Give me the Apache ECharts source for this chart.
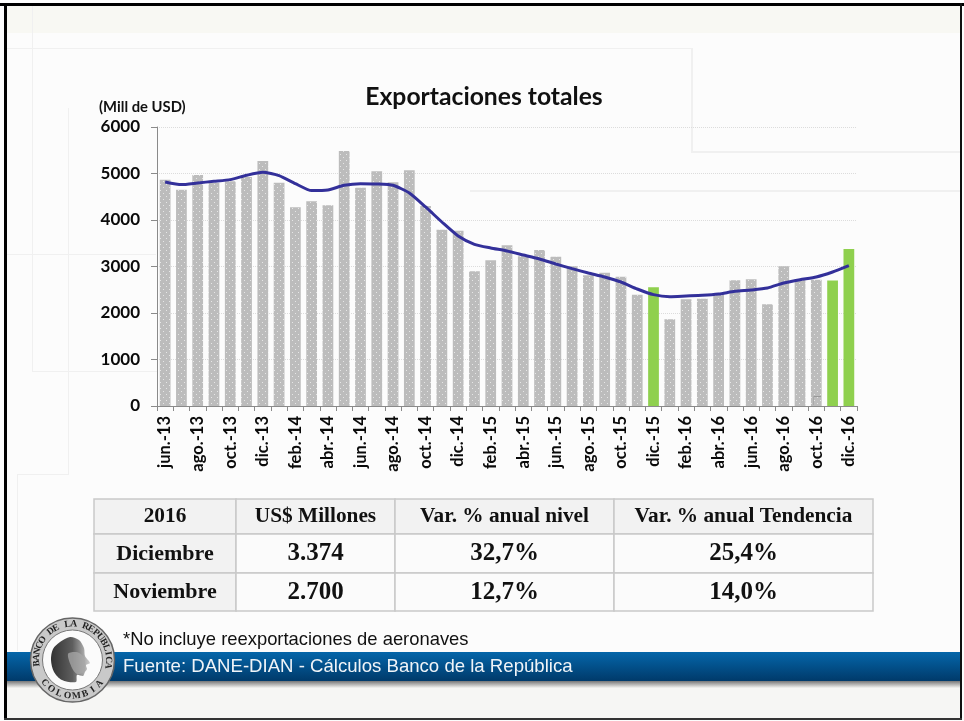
<!DOCTYPE html>
<html><head><meta charset="utf-8">
<style>html,body{margin:0;padding:0;background:#fff}#c{width:964px;height:721px}</style>
<script src="https://cdn.jsdelivr.net/npm/echarts@6/dist/echarts.min.js"></script>
</head><body><div id="c"></div>
<script>
const categories=['jun.-13','jul.-13','ago.-13','sep.-13','oct.-13','nov.-13','dic.-13','ene.-14','feb.-14','mar.-14','abr.-14','may.-14','jun.-14','jul.-14','ago.-14','sep.-14','oct.-14','nov.-14','dic.-14','ene.-15','feb.-15','mar.-15','abr.-15','may.-15','jun.-15','jul.-15','ago.-15','sep.-15','oct.-15','nov.-15','dic.-15','ene.-16','feb.-16','mar.-16','abr.-16','may.-16','jun.-16','jul.-16','ago.-16','sep.-16','oct.-16','nov.-16','dic.-16'];
const exportsLevel=[4868,4653,4968,4796,4832,4925,5270,4803,4273,4402,4316,5484,4696,5047,4810,5069,4301,3793,3771,2896,3133,3456,3219,3355,3212,3004,2810,2868,2782,2395,2552,1864,2294,2309,2416,2703,2724,2187,3004,2720,2717,2700,3374];
const exportsTrend=[4818,4761,4797,4832,4868,4961,5026,4954,4782,4632,4646,4746,4782,4775,4746,4581,4280,3957,3656,3477,3398,3334,3248,3162,3054,2954,2861,2775,2667,2516,2395,2352,2366,2380,2409,2466,2495,2538,2646,2717,2775,2882,3018];
const highlighted=['dic.-15','nov.-16','dic.-16'];
const tableHeader=['2016','US$ Millones','Var. % anual nivel','Var. % anual Tendencia'];
const tableRow1=['Diciembre','3.374','32,7%','25,4%'];
const tableRow2=['Noviembre','2.700','12,7%','14,0%'];
const chartTitle='Exportaciones totales', unitLabel='(Mill de USD)';
const noteText='*No incluye reexportaciones de aeronaves', sourceText='Fuente: DANE-DIAN - Cálculos Banco de la República';
const sealTop='BANCO DE LA REPUBLICA', sealBottom='COLOMBIA';

const pat=document.createElement('canvas');pat.width=6;pat.height=6;
const p=pat.getContext('2d');p.fillStyle='#bcbcbc';p.fillRect(0,0,6,6);p.fillStyle='#e6e6e6';p.fillRect(1,1,1,1);p.fillRect(4,4,1,1);

const g=[];
const rect=(x,y,w,h,fill,z,extra)=>g.push(Object.assign({type:'rect',silent:true,z:z,shape:{x,y,width:w,height:h},style:{fill}},extra||{}));
const faint=(x,y,w,h)=>rect(x,y,w,h,'#f0f0f0',-9);
// page background
rect(0,0,964,721,'#fcfcfc',-10);
rect(5,5,956,28,'#f8f8f3',-10);
rect(5,681,956,38,'#f6f6f4',-10);
faint(6,48,686,1);faint(32,5,1,367);faint(32,371,125,1);faint(68,108,1,367);faint(17,474,52,1);faint(17,474,1,177);
faint(6,254,150,1);faint(470,190,491,2);faint(691,48,2,104);faint(691,151,270,2);
// footer band
rect(5,681,956,7,'#000',-8,{style:{fill:{type:'linear',x:0,y:0,x2:0,y2:1,colorStops:[{offset:0,color:'#777'},{offset:1,color:'#f4f4f2'}]}}});
rect(5,652,956,29,'#000',-7,{style:{fill:{type:'linear',x:0,y:0,x2:0,y2:1,colorStops:[{offset:0,color:'#0566aa'},{offset:1,color:'#003a6a'}]}}});
// frame
rect(0,0,964,3,'#fff',60);rect(0,3,964,3,'#000',60);rect(4,3,3,717,'#000',60);rect(960,3,2,717,'#111',60);rect(4,718,958,2,'#333',60);
// table
const colX=[94,236,395,614,873], rowY=[499,534,573,611];
const rows=[tableHeader,tableRow1,tableRow2];
rows.forEach((r,i)=>r.forEach((t,j)=>{
  const f=(i===0||j===0)?'#f2f2f2':'#fbfbfb';
  rect(colX[j],rowY[i],colX[j+1]-colX[j],rowY[i+1]-rowY[i],f,5,{style:{fill:f,stroke:'#c9c9c9',lineWidth:1.5}});
  g.push({type:'text',silent:true,z:6,style:{text:t,x:(colX[j]+colX[j+1])/2,y:(rowY[i]+rowY[i+1])/2+(i>0?0.5:0),textAlign:'center',textVerticalAlign:'middle',fill:'#111',
    font:'bold '+((i>0&&j>0)?25:(i>0?22:21.3))+'px "Liberation Serif"'}});
}));
// notes
g.push({type:'text',silent:true,z:6,style:{text:noteText,x:123,y:640,textVerticalAlign:'middle',fill:'#111',font:'18.4px "Liberation Sans"'}});
g.push({type:'text',silent:true,z:6,style:{text:sourceText,x:123,y:667,textVerticalAlign:'middle',fill:'#f0f4f8',font:'18.6px "Liberation Sans"'}});
g.push({type:'text',silent:true,z:6,style:{text:unitLabel,x:99,y:107,textVerticalAlign:'middle',fill:'#111',font:'bold 14.8px Lato'}});
// seal
const cx=72.5,cy=660;
g.push({type:'circle',silent:true,z:10,shape:{cx,cy,r:42},style:{fill:'#c9c9c9',stroke:'#666',lineWidth:1.5}});
g.push({type:'circle',silent:true,z:10,shape:{cx,cy,r:30},style:{fill:'#fbfbfb',stroke:'#777',lineWidth:1}});
const ring=(txt,start,step,flip)=>[...txt].forEach((ch,i)=>{
  const a=start+i*step, rr=36;
  g.push({type:'text',silent:true,z:11,x:cx+rr*Math.cos(a),y:cy+rr*Math.sin(a),rotation:flip?-(a-Math.PI/2):-(a+Math.PI/2),
    style:{text:ch,x:0,y:0,textAlign:'center',textVerticalAlign:'middle',fill:'#222',font:'bold 9.5px "Liberation Serif"'}});
});
ring(sealTop,Math.PI*0.97,Math.PI*1.08/20,false);
ring(sealBottom,Math.PI*0.78,-Math.PI*0.55/7,true);
const headFill={type:'linear',x:0,y:0,x2:1,y2:0,colorStops:[{offset:0,color:'#333'},{offset:0.55,color:'#5e5e5e'},{offset:1,color:'#cfcfcf'}]};
g.push({type:'polygon',silent:true,z:12,shape:{smooth:0.3,points:[[60,642],[70,637],[79,640],[84,648],[85,656],[90,663],[86,665],[87,669],[85,672],[83,676],[77,675],[76,682],[62,680],[54,672],[51,660],[53,649]]},style:{fill:headFill}});
g.push({type:'polygon',silent:true,z:13,shape:{smooth:0.3,points:[[68,654],[76,652],[82,655],[85,662],[84,672],[77,674],[72,668]]},style:{fill:'#a8a8a8',opacity:0.75}});
// small artefact by oct-16
rect(813,396,8,1,'#999',20);rect(813,396,1,9,'#aaa',20);

const option={
  animation:false,
  backgroundColor:'transparent',
  title:{text:chartTitle,left:479,top:80,textAlign:'center',textStyle:{fontFamily:'Lato',fontWeight:'bold',fontSize:24.7,color:'#111'}},
  grid:{left:157,top:127,width:700,height:279,containLabel:false},
  xAxis:{type:'category',data:categories,boundaryGap:true,
    axisLine:{lineStyle:{color:'#8a8a8a',width:1}},
    axisTick:{show:true,interval:0,length:5,lineStyle:{color:'#8a8a8a'}},
    axisLabel:{interval:1,rotate:90,margin:10,color:'#0a0a0a',fontFamily:'Lato',fontWeight:'bold',fontSize:16.5}},
  yAxis:{type:'value',min:0,max:6000,interval:1000,
    axisLine:{show:true,lineStyle:{color:'#8a8a8a',width:1}},
    axisTick:{show:true,length:6,lineStyle:{color:'#8a8a8a'}},
    splitLine:{show:true,lineStyle:{color:'#dcdcdc',type:'dotted'}},
    axisLabel:{margin:17,color:'#0a0a0a',fontFamily:'Lato',fontWeight:'bold',fontSize:17,formatter:v=>String(v)}},
  series:[
    {type:'bar',barWidth:'66%',data:exportsLevel.map((v,i)=>({value:v,itemStyle:{color:highlighted.includes(categories[i])?'#8fd04e':{image:pat,repeat:'repeat'}}}))},
    {type:'line',data:exportsTrend,smooth:0.2,showSymbol:false,symbol:'none',z:5,lineStyle:{color:'#33309a',width:3}}
  ],
  graphic:{elements:g}
};
const chart=echarts.init(document.getElementById('c'),null,{renderer:'canvas',width:964,height:721});
chart.setOption(option);
</script></body></html>
